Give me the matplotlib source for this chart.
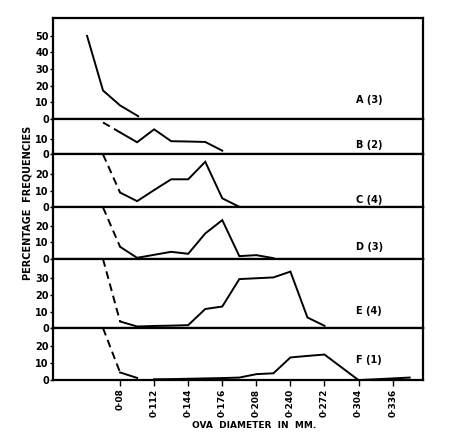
import numpy as np
import matplotlib.pyplot as plt

# ova diameter (mm) and percentage frequencies
a_x = [0.049, 0.064, 0.080, 0.097]
a_y = [50, 17, 8, 1.5]

b_x = [0.080, 0.096, 0.112, 0.128, 0.144, 0.160, 0.176]
b_y = [14.5, 8, 16.5, 8.7, 8.5, 8.2, 2.5]

c_x = [0.080, 0.096, 0.112, 0.128, 0.144, 0.160, 0.176, 0.192]
c_y = [9, 3.8, 10.5, 17, 17, 27.6, 5.5, 0.4]

d_x = [0.080, 0.096, 0.112, 0.128, 0.144, 0.160, 0.176, 0.192, 0.208, 0.224]
d_y = [7.4, 0.8, 2.6, 4.4, 3.2, 15.4, 23.4, 1.8, 2.4, 0.6]

e_x = [0.080, 0.096, 0.112, 0.128, 0.144, 0.160, 0.176, 0.192, 0.208, 0.224, 0.240, 0.256, 0.272]
e_y = [4, 1, 1.3, 1.5, 1.8, 11.5, 13, 29.5, 30, 30.5, 34, 6.4, 1.4]

f_x = [0.080, 0.096, 0.104, 0.112, 0.128, 0.144, 0.160, 0.176, 0.192, 0.208, 0.224,
       0.240, 0.256, 0.272, 0.288, 0.304, 0.320, 0.336, 0.352]
f_y = [4.5, 1.3, np.nan, 0.5, 0.6, 0.8, 1.0, 1.2, 1.5, 3.5, 4.0,
       13.3, 14.2, 15, 7.5, 0, 0.5, 1.0, 1.5]

# dashed lead-in from 0.064 (off the top of the panel)
lead_x = 0.064
lead_b = 21

names = ['A (3)', 'B (2)', 'C (4)', 'D (3)', 'E (4)', 'F (1)']
ytops = [61, 23.5, 32, 31, 41.5, 30.5]
yticks = [[0, 10, 20, 30, 40, 50], [0, 10], [0, 10, 20], [0, 10, 20], [0, 10, 20, 30], [0, 10, 20]]
label_y = [11.4, 6, 4.4, 7, 10.5, 11.8]
heights = [101, 35.8, 53, 51.7, 69, 52]

tick_pos = [0.080, 0.112, 0.144, 0.176, 0.208, 0.240, 0.272, 0.304, 0.336]
tick_lab = ['0·08', '0·112', '0·144', '0·176', '0·208', '0·240', '0·272', '0·304', '0·336']

series = [(a_x, a_y, None), (b_x, b_y, lead_b), (c_x, c_y, ytops[2]),
          (d_x, d_y, ytops[3]), (e_x, e_y, ytops[4]), (f_x, f_y, ytops[5])]

plt.rcParams['font.family'] = 'DejaVu Sans'
plt.rcParams['font.weight'] = 'bold'

fig = plt.figure(figsize=(4.5, 4.42), dpi=100)
gs = fig.add_gridspec(6, 1, height_ratios=heights, hspace=0,
                      left=0.118, right=0.939, top=0.960, bottom=0.140)

axes = []
for i in range(6):
    ax = fig.add_subplot(gs[i], sharex=axes[0] if axes else None)
    axes.append(ax)
    xs, ys, lead = series[i]
    ax.plot(xs, ys, color='black', lw=1.4, solid_joinstyle='miter')
    if lead is not None:
        ax.plot([lead_x, xs[0]], [lead, ys[0]], color='black', lw=1.4,
                linestyle=(0, (4, 2.5)))
    ax.set_ylim(0, ytops[i])
    ax.set_yticks(yticks[i])
    ax.set_yticklabels([str(t) for t in yticks[i]], fontsize=7, fontweight='bold')
    ax.tick_params(axis='y', direction='out', length=2, width=1, pad=1)
    for s in ax.spines.values():
        s.set_linewidth(1.6)
    ax.text(0.82, label_y[i], names[i], transform=ax.get_yaxis_transform(),
            fontsize=7, fontweight='bold', ha='left', va='center')
    if i < 5:
        ax.tick_params(axis='x', bottom=False, labelbottom=False)

axes[0].set_xlim(0.0171, 0.3641)
ax = axes[-1]
ax.set_xticks(tick_pos)
ax.set_xticklabels(tick_lab, rotation=90, fontsize=6.5, fontweight='bold')
ax.tick_params(axis='x', direction='out', length=4, width=1, pad=2)

fig.text(0.062, 0.54, 'PERCENTAGE  FREQUENCIES', rotation=90, ha='center', va='center',
         fontsize=7, fontweight='bold')
fig.text(0.565, 0.038, 'OVA  DIAMETER  IN  MM.', ha='center', va='center',
         fontsize=6.5, fontweight='bold')

fig.savefig('out.png', dpi=100)
